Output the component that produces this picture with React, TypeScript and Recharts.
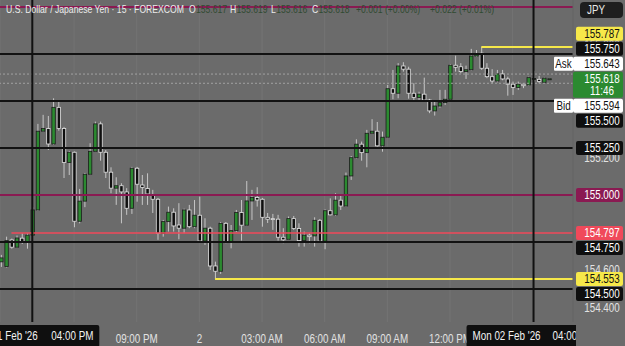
import React from "react";
import { ComposedChart, Bar, XAxis, YAxis, ReferenceLine, CartesianGrid } from "recharts";

// ---------- geometry / style constants ----------
const W = 625;
const H = 346;
const AXIS_W = 52;
const AXIS_H = 24;
const PLOT_W = W - AXIS_W;
const PLOT_H = H - AXIS_H;
const Y_MIN = 154.324;
const Y_MAX = 156.037;
const X_MIN = -6.187;
const X_MAX = 103.56;
const FONT = '"Liberation Sans", Arial, sans-serif';
const NARROW = 0.82;
const BG = "#6b6b6b";

// ---------- data ----------
// 15-minute bars; slot 0 = Sun 01 Feb '26 04:00 PM
const FIRST_SLOT = -6;
const opens = [
  154.644, 154.619, 154.761, 154.722, 154.770, 154.752,
  154.786, 154.920, 155.339, 155.353, 155.271, 155.466, 155.353, 155.172, 155.227, 154.860,
  154.967, 155.110, 155.232, 155.378, 155.227, 155.121, 155.036, 155.049, 155.016, 154.929,
  155.142, 155.053, 155.034, 155.000, 154.977, 154.796, 154.858, 154.908, 154.840, 154.823,
  154.920, 154.831, 154.892, 154.755, 154.823, 154.622, 154.594, 154.849, 154.752, 154.810,
  154.906, 154.839, 154.968, 154.986, 154.977, 154.881, 154.874, 154.871, 154.775, 154.764,
  154.874, 154.821, 154.757, 154.786, 154.782, 154.865, 154.754, 154.916, 154.894, 154.972,
  154.941, 155.101, 155.198, 155.270, 155.225, 155.328, 155.339, 155.261, 155.307, 155.565,
  155.541, 155.686, 155.669, 155.541, 155.518, 155.536, 155.505, 155.447, 155.473, 155.491,
  155.509, 155.690, 155.682, 155.656, 155.666, 155.739, 155.754, 155.674, 155.629, 155.606,
  155.644, 155.617, 155.589, 155.571, 155.589, 155.585, 155.617, 155.615, 155.599, 155.617,
];
const highs = [
  154.681, 154.778, 154.768, 154.784, 154.796, 154.796,
  154.935, 155.378, 155.426, 155.420, 155.514, 155.496, 155.362, 155.234, 155.231, 155.032,
  155.117, 155.275, 155.390, 155.390, 155.239, 155.147, 155.094, 155.062, 155.036, 155.149,
  155.149, 155.106, 155.115, 155.027, 154.984, 154.867, 154.938, 154.929, 154.956, 154.927,
  154.947, 154.973, 154.991, 154.876, 154.831, 154.645, 154.856, 154.856, 154.840, 154.920,
  154.973, 155.074, 155.027, 155.041, 154.984, 154.904, 154.899, 154.894, 154.823, 154.885,
  154.888, 154.849, 154.805, 154.796, 154.881, 154.872, 154.923, 154.982, 155.009, 154.996,
  155.119, 155.207, 155.296, 155.284, 155.346, 155.403, 155.388, 155.337, 155.585, 155.665,
  155.701, 155.706, 155.682, 155.594, 155.549, 155.624, 155.511, 155.505, 155.559, 155.559,
  155.695, 155.741, 155.701, 155.688, 155.777, 155.771, 155.787, 155.701, 155.669, 155.665,
  155.665, 155.629, 155.603, 155.603, 155.594, 155.629, 155.660, 155.633, 155.624, 155.619,
];
const lows = [
  154.617, 154.614, 154.714, 154.718, 154.739, 154.714,
  154.782, 154.915, 155.335, 155.239, 155.266, 155.342, 155.090, 155.106, 154.828, 154.849,
  154.935, 155.106, 155.229, 155.182, 155.090, 155.009, 154.947, 154.849, 154.894, 154.899,
  154.964, 154.947, 154.947, 154.904, 154.761, 154.778, 154.805, 154.805, 154.764, 154.796,
  154.823, 154.823, 154.752, 154.734, 154.601, 154.553, 154.580, 154.743, 154.716, 154.803,
  154.757, 154.835, 154.867, 154.938, 154.831, 154.851, 154.814, 154.757, 154.743, 154.761,
  154.814, 154.725, 154.725, 154.743, 154.725, 154.750, 154.711, 154.891, 154.888, 154.920,
  154.936, 155.080, 155.194, 155.182, 155.147, 155.324, 155.257, 155.230, 155.303, 155.509,
  155.514, 155.656, 155.512, 155.505, 155.496, 155.496, 155.435, 155.422, 155.464, 155.479,
  155.505, 155.656, 155.647, 155.617, 155.662, 155.734, 155.665, 155.621, 155.594, 155.599,
  155.610, 155.528, 155.532, 155.559, 155.568, 155.580, 155.603, 155.594, 155.598, 155.616,
];
const closes = [
  154.665, 154.757, 154.722, 154.771, 154.752, 154.786,
  154.920, 155.339, 155.353, 155.271, 155.466, 155.353, 155.172, 155.227, 154.860, 154.967,
  155.110, 155.232, 155.378, 155.227, 155.121, 155.036, 155.049, 155.016, 154.929, 155.142,
  155.057, 155.039, 155.005, 154.977, 154.796, 154.858, 154.908, 154.835, 154.823, 154.920,
  154.831, 154.892, 154.755, 154.823, 154.622, 154.594, 154.849, 154.752, 154.810, 154.906,
  154.839, 154.968, 154.986, 154.973, 154.881, 154.871, 154.872, 154.775, 154.761, 154.874,
  154.821, 154.757, 154.786, 154.778, 154.865, 154.754, 154.916, 154.894, 154.972, 154.941,
  155.101, 155.198, 155.270, 155.225, 155.328, 155.339, 155.261, 155.307, 155.565, 155.541,
  155.686, 155.669, 155.541, 155.518, 155.536, 155.505, 155.447, 155.473, 155.491, 155.509,
  155.690, 155.679, 155.656, 155.666, 155.739, 155.750, 155.674, 155.629, 155.606, 155.644,
  155.617, 155.589, 155.571, 155.589, 155.581, 155.624, 155.619, 155.603, 155.621, 155.618,
];

const timeTickSlots = [8, 20, 32, 44, 56, 68, 80, 92];
const timeTickLabels = ["06:00 PM", "09:00 PM", "2", "03:00 AM", "06:00 AM", "09:00 AM", "12:00 PM", "03:00 PM"];
const priceTicks = [154.4, 154.6, 154.8, 155.0, 155.2, 155.4, 155.6, 155.8, 156.0];

const blackLevels = [155.75, 155.5, 155.25, 154.75, 154.5];
const maroonLevels = [156.0, 155.0];
const redLevel = 154.797;
const redStartSlot = -4;
const sessionHigh = 155.787;
const sessionHighSlot = 86;
const sessionLow = 154.553;
const sessionLowSlot = 35;
const askPrice = 155.643;
const bidPrice = 155.594;
const lastPrice = 155.618;
const countdown = "11:46";
const crosshairSlots = [0, 96];
const crosshairLabels = [
  ["Sun 01 Feb '26", "04:00 PM"],
  ["Mon 02 Feb '26", "04:00 PM"],
];
const title = "U.S. Dollar / Japanese Yen · 15 · FOREXCOM";
const ohlcLetters = ["O", "H", "L", "C"];
const ohlcValues = ["155.617", "155.619", "155.616", "155.618"];
const changeTexts = ["+0.001 (+0.00%)", "+0.022 (+0.01%)"];

const MAROON = "#8a1a52";
const YELLOW = "#f6e84a";
const RED = "#f0495a";
const GREEN = "#2b8a30";
const BLACK = "#0f0f0f";
const VALUE_GREY = "#304a31";

const candles = opens.map((o, i) => ({
  slot: i + FIRST_SLOT,
  o,
  h: highs[i],
  l: lows[i],
  c: closes[i],
  range: [lows[i], highs[i]],
}));

const Candle = (props: any) => {
  const { x, y, width, height, payload } = props;
  if (x == null || y == null || !payload) return null;
  const { o, h, l, c } = payload;
  const top = Math.min(y, y + height);
  const hgt = Math.abs(height);
  const span = h - l;
  const ppu = span > 0 ? hgt / span : 0;
  const cx = x + width / 2;
  const by1 = top + (h - Math.max(o, c)) * ppu;
  const by2 = top + (h - Math.min(o, c)) * ppu;
  const bh = Math.max(by2 - by1, 1);
  const bull = c >= o;
  return (
    <g>
      <line x1={cx} x2={cx} y1={top} y2={top + hgt} stroke="#c6c6c6" strokeWidth={1} />
      <rect
        x={cx - 1.7}
        y={by1}
        width={3.4}
        height={bh}
        fill={bull ? GREEN : BLACK}
        stroke={bull ? "#1c1c1c" : "#e4e4e4"}
        strokeWidth={0.8}
      />
    </g>
  );
};

// narrow text helper (condensed Liberation Sans)
const NText = ({ x, y, size = 12, fill, anchor = "start", children }: any) => (
  <text
    transform={`translate(${x} ${y}) scale(${NARROW} 1)`}
    fontSize={size}
    fill={fill}
    textAnchor={anchor}
    fontFamily={FONT}
  >
    {children}
  </text>
);

const TimeTick = (props: any) => {
  const { x, y, payload } = props;
  const idx = timeTickSlots.indexOf(payload.value);
  return <NText x={x} y={y + 11} fill="#e2e2e2" anchor="middle">{timeTickLabels[idx] ?? ""}</NText>;
};

const PriceTick = (props: any) => {
  const { x, y, payload } = props;
  return (
    <NText x={x + 18} y={y + 4.2} fill="#e2e2e2" anchor="middle">
      {Number(payload.value).toFixed(3)}
    </NText>
  );
};

const priceToY = (p: number) => ((Y_MAX - p) / (Y_MAX - Y_MIN)) * PLOT_H;
const slotToX = (s: number) => ((s - X_MIN) / (X_MAX - X_MIN)) * PLOT_W;

type PLabel = { price: number; bg: string; fg: string; tag?: string; sub?: string; main?: boolean; wide?: boolean };
const priceLabels: PLabel[] = [
  { price: sessionHigh, bg: YELLOW, fg: "#111" },
  { price: blackLevels[0], bg: BLACK, fg: "#fff" },
  { price: askPrice, bg: "#ffffff", fg: "#111", tag: "Ask", wide: true },
  { price: lastPrice, bg: GREEN, fg: "#fff", sub: countdown, main: true, wide: true },
  { price: bidPrice, bg: "#ffffff", fg: "#111", tag: "Bid", wide: true },
  { price: blackLevels[1], bg: BLACK, fg: "#fff" },
  { price: blackLevels[2], bg: BLACK, fg: "#fff" },
  { price: maroonLevels[1], bg: MAROON, fg: "#fff" },
  { price: redLevel, bg: RED, fg: "#fff" },
  { price: blackLevels[3], bg: BLACK, fg: "#fff" },
  { price: sessionLow, bg: YELLOW, fg: "#111" },
  { price: blackLevels[4], bg: BLACK, fg: "#fff" },
];

function layoutLabels(list: PLabel[]) {
  const GAP = 1;
  const items = list
    .map((l) => {
      const h = l.sub ? 26 : 14;
      const y = priceToY(l.price);
      return { ...l, h, top: l.sub ? y - 7 : y - h / 2 };
    })
    .sort((a, b) => a.top - b.top);
  const ai = items.findIndex((i) => i.main);
  for (let i = ai + 1; i < items.length; i++) {
    items[i].top = Math.max(items[i].top, items[i - 1].top + items[i - 1].h + GAP);
  }
  for (let i = ai - 1; i >= 0; i--) {
    items[i].top = Math.min(items[i].top, items[i + 1].top - GAP - items[i].h);
  }
  return items;
}

const ohlcX = [189, 230, 271, 312];
const ohlcLetterW = [6.5, 6, 4.8, 6];

const Overlay = () => {
  const items = layoutLabels(priceLabels);
  return (
    <svg
      width={W}
      height={H}
      style={{ position: "absolute", left: 0, top: 0, pointerEvents: "none" }}
      fontFamily={FONT}
    >
      <defs>
        <clipPath id="timeclip">
          <rect x={0} y={0} width={576} height={H} />
        </clipPath>
      </defs>
      {/* header */}
      <text x={6} y={12.5} fontSize={11.5} fill="#ececec" textLength={178} lengthAdjust="spacingAndGlyphs">
        {title}
      </text>
      {ohlcLetters.map((L, i) => (
        <g key={L}>
          <NText x={ohlcX[i]} y={12.5} size={10.5} fill="#ececec">{L}</NText>
          <NText x={ohlcX[i] + ohlcLetterW[i] + 0.5} y={12.5} size={10.5} fill={VALUE_GREY}>{ohlcValues[i]}</NText>
        </g>
      ))}
      <NText x={356} y={12.5} size={10.5} fill={VALUE_GREY}>{changeTexts[0]}</NText>
      <NText x={430} y={12.5} size={10.5} fill={VALUE_GREY}>{changeTexts[1]}</NText>
      {/* currency box */}
      <rect x={580} y={2} width={43} height={16} rx={4} fill="#1e1e1e" />
      <NText x={587} y={14} size={12} fill="#e8e8e8">JPY</NText>
      {/* price labels */}
      {items.map((it, i) => {
        const bx = it.wide ? 573 : 576;
        const bw = it.wide ? 50 : 47;
        return (
          <g key={i}>
            {it.tag && (
              <>
                <rect x={554} y={it.top} width={19} height={it.h} fill="#ffffff" rx={1} />
                <NText x={563.5} y={it.top + it.h / 2 + 4.2} fill="#111" anchor="middle">
                  {it.tag}
                </NText>
              </>
            )}
            <rect x={bx} y={it.top} width={bw} height={it.h} fill={it.bg} rx={2} />
            <NText x={602} y={it.top + 7 + 4.2} fill={it.fg} anchor="middle">
              {it.price.toFixed(3)}
            </NText>
            {it.sub && (
              <NText x={602} y={it.top + 19 + 4.2} fill={it.fg} anchor="middle">
                {it.sub}
              </NText>
            )}
          </g>
        );
      })}
      {/* crosshair time boxes */}
      <g clipPath="url(#timeclip)">
        {crosshairSlots.map((s, i) => {
          const cx = slotToX(s);
          const bx = cx - 67;
          return (
            <g key={s}>
              <rect x={bx} y={325} width={134} height={22} fill={BLACK} rx={2} />
              <NText x={bx + 6} y={340} fill="#f2f2f2">{crosshairLabels[i][0]}</NText>
              <NText x={bx + 86} y={340} fill="#f2f2f2">{crosshairLabels[i][1]}</NText>
            </g>
          );
        })}
      </g>
    </svg>
  );
};

export default function App() {
  return (
    <div style={{ position: "fixed", left: 0, top: 0, width: W, height: H, background: BG, overflow: "hidden" }}>
      <ComposedChart width={W} height={H} data={candles} margin={{ top: 0, right: 0, bottom: 0, left: 0 }}>
        <CartesianGrid horizontal={false} vertical={true} stroke="#747474" strokeWidth={1} />
        <XAxis
          dataKey="slot"
          type="number"
          domain={[X_MIN, X_MAX]}
          allowDataOverflow
          ticks={timeTickSlots}
          interval={0}
          axisLine={false}
          tickLine={false}
          tickSize={0}
          tickMargin={10}
          height={AXIS_H}
          tick={<TimeTick />}
        />
        <YAxis
          orientation="right"
          type="number"
          domain={[Y_MIN, Y_MAX]}
          allowDataOverflow
          ticks={priceTicks}
          interval={0}
          axisLine={{ stroke: "#606060" }}
          tickLine={false}
          tickSize={0}
          tickMargin={11}
          width={AXIS_W}
          tick={<PriceTick />}
        />
        {maroonLevels.map((p) => (
          <ReferenceLine key={"m" + p} y={p} stroke={MAROON} strokeWidth={2} />
        ))}
        {blackLevels.map((p) => (
          <ReferenceLine key={"b" + p} y={p} stroke="#121212" strokeWidth={2} />
        ))}
        <ReferenceLine y={askPrice} stroke="#a2a2a2" strokeDasharray="2 2" strokeWidth={1} />
        <ReferenceLine y={bidPrice} stroke="#a2a2a2" strokeDasharray="2 2" strokeWidth={1} />
        <ReferenceLine
          segment={[{ x: redStartSlot, y: redLevel }, { x: X_MAX, y: redLevel }]}
          stroke={RED}
          strokeWidth={1.5}
        />
        <ReferenceLine
          segment={[{ x: sessionHighSlot, y: sessionHigh }, { x: X_MAX, y: sessionHigh }]}
          stroke={YELLOW}
          strokeWidth={2}
        />
        <ReferenceLine
          segment={[{ x: sessionLowSlot, y: sessionLow }, { x: X_MAX, y: sessionLow }]}
          stroke={YELLOW}
          strokeWidth={2}
        />
        {crosshairSlots.map((s) => (
          <ReferenceLine key={"x" + s} x={s} stroke="#111111" strokeWidth={2} />
        ))}
        <Bar dataKey="range" barSize={4} shape={Candle} isAnimationActive={false} />
      </ComposedChart>
      <Overlay />
    </div>
  );
}
